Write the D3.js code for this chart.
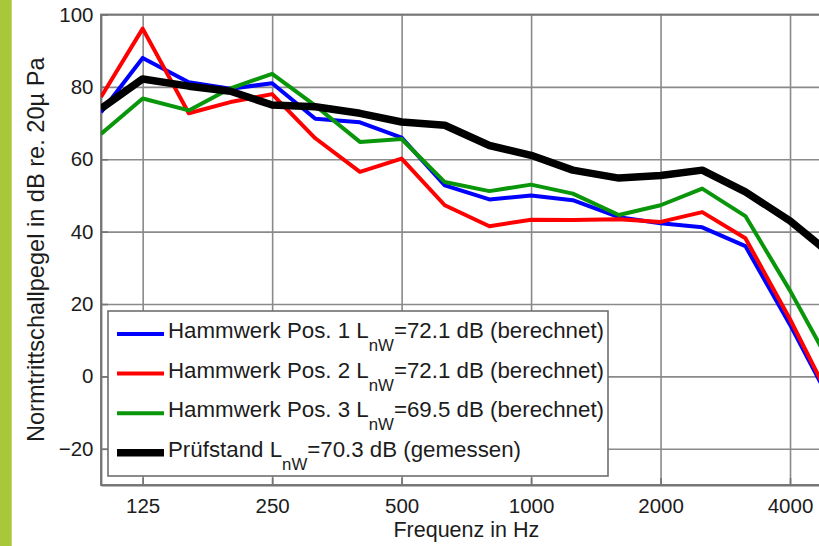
<!DOCTYPE html>
<html>
<head>
<meta charset="utf-8">
<script src="https://cdn.jsdelivr.net/npm/d3@7"></script>
<style>
  html, body { margin: 0; padding: 0; background: #fff; }
  svg { display: block; font-family: "Liberation Sans", Arial, Helvetica, sans-serif; }
</style>
</head>
<body>
<svg id="chart" width="819" height="546"></svg>
<script>
// Third-octave band centre frequencies (Hz)
const freqs = [100, 125, 160, 200, 250, 315, 400, 500, 630, 800, 1000, 1250, 1600, 2000, 2500, 3150, 4000, 5000];

// Normalised impact sound pressure level, dB re. 20 µPa
const pos1 = [73, 88, 81.3, 79.5, 81, 71.2, 70.2, 66, 52.8, 48.9, 50, 48.7, 44, 42.3, 41.2, 36, 14.3, -7.6];
const pos2 = [77.2, 96.1, 72.7, 75.8, 78, 65.8, 56.5, 60.2, 47.3, 41.5, 43.3, 43.2, 43.4, 42.7, 45.4, 38.2, 15.8, -7];
const pos3 = [67, 76.8, 73.5, 79.6, 83.6, 74.8, 64.8, 65.6, 53.7, 51.2, 53, 50.5, 44.6, 47.3, 51.9, 44.3, 23.7, 2.8];
const pruefstand = [74, 82.2, 80.2, 78.8, 75, 74.5, 72.7, 70.3, 69.4, 63.8, 61.1, 57, 54.8, 55.5, 57, 51, 43, 33.5];

const xTicks = [125, 250, 500, 1000, 2000, 4000];
const yTicks = [100, 80, 60, 40, 20, 0, -20];

// Legend entries: [text before subscript, subscript, text after]
const legendLabels = [
  ["Hammwerk Pos. 1 L", "nW", "=72.1 dB (berechnet)"],
  ["Hammwerk Pos. 2 L", "nW", "=72.1 dB (berechnet)"],
  ["Hammwerk Pos. 3 L", "nW", "=69.5 dB (berechnet)"],
  ["Prüfstand L", "nW", "=70.3 dB (gemessen)"]
];

const series = [
  { values: pos1, color: "#0000ff", width: 4 },
  { values: pos2, color: "#ff0000", width: 4 },
  { values: pos3, color: "#0a960a", width: 4 },
  { values: pruefstand, color: "#000000", width: 7.5 }
];

const svg = d3.select("#chart");
const plotL = 101, plotR = 831.7, plotT = 14.5, plotB = 485;
const textColor = "#1c1c1c";

const x = d3.scaleLog().domain([100, 5000]).range([plotL, plotR]);
const y = d3.scaleLinear().domain([-30, 100]).range([plotB, plotT]);

// side accent bar
svg.append("rect").attr("x", 0).attr("y", 0).attr("width", 11.7).attr("height", 546).attr("fill", "#a8c83a");

// grid
const grid = svg.append("g");
grid.append("g")
  .attr("transform", `translate(0,${plotB})`)
  .call(d3.axisBottom(x).tickValues(xTicks).tickSize(-(plotB - plotT)).tickFormat(""))
  .call(g => g.select(".domain").remove())
  .call(g => g.selectAll("line").attr("stroke", "#8a8a8a").attr("stroke-width", 1.6));
grid.append("g")
  .attr("transform", `translate(${plotL},0)`)
  .call(d3.axisLeft(y).tickValues(yTicks).tickSize(-(plotR - plotL)).tickFormat(""))
  .call(g => g.select(".domain").remove())
  .call(g => g.selectAll("line").attr("stroke", "#8a8a8a").attr("stroke-width", 1.6));

// axis box
svg.append("rect")
  .attr("x", plotL).attr("y", plotT).attr("width", plotR - plotL).attr("height", plotB - plotT)
  .attr("fill", "none").attr("stroke", "#747474").attr("stroke-width", 1.8);

// axes with inward ticks
const xAxis = svg.append("g")
  .attr("transform", `translate(0,${plotB})`)
  .call(d3.axisBottom(x).tickValues(xTicks).tickFormat(d3.format("d")).tickSizeInner(-7).tickSizeOuter(0).tickPadding(13.5));
const yAxis = svg.append("g")
  .attr("transform", `translate(${plotL},0)`)
  .call(d3.axisLeft(y).tickValues(yTicks).tickFormat(d => d < 0 ? "\u2212" + Math.abs(d) : d).tickSizeInner(-7).tickSizeOuter(0).tickPadding(7.5));
[xAxis, yAxis].forEach(a => {
  a.select(".domain").attr("stroke", "#747474").attr("stroke-width", 1.8);
  a.selectAll(".tick line").attr("stroke", "#747474").attr("stroke-width", 1.6);
  a.selectAll("text").attr("font-size", 20.5).attr("fill", textColor);
  a.attr("font-family", null).attr("font-size", null);
});

// data lines
svg.append("clipPath").attr("id", "plotClip")
  .append("rect").attr("x", plotL).attr("y", plotT).attr("width", plotR - plotL).attr("height", plotB - plotT);
const line = d3.line().x((d, i) => x(freqs[i])).y(d => y(d));
svg.append("g").attr("clip-path", "url(#plotClip)")
  .selectAll("path").data(series).join("path")
  .attr("d", d => line(d.values))
  .attr("fill", "none")
  .attr("stroke", d => d.color)
  .attr("stroke-width", d => d.width)
  .attr("stroke-linejoin", "round");

// legend
const lg = svg.append("g");
lg.append("rect").attr("x", 108).attr("y", 311).attr("width", 500).attr("height", 165)
  .attr("fill", "#fff").attr("stroke", "#6e6e6e").attr("stroke-width", 1.6);
const rows = lg.selectAll("g.row").data(series).join("g")
  .attr("class", "row")
  .attr("transform", (d, i) => `translate(0,${334 + i * 39.6})`);
rows.append("line").attr("x1", 117).attr("x2", 164).attr("y1", 0).attr("y2", 0)
  .attr("stroke", d => d.color).attr("stroke-width", d => d.width);
const t = rows.append("text").attr("x", 168).attr("y", 4).attr("font-size", 22.3).attr("fill", textColor);
t.append("tspan").text((d, i) => legendLabels[i][0]);
t.append("tspan").attr("font-size", 16.8).attr("dy", 13).text((d, i) => legendLabels[i][1]);
t.append("tspan").attr("dy", -13).text((d, i) => legendLabels[i][2]);

// axis titles
svg.append("text").attr("x", (plotL + plotR) / 2).attr("y", 537).attr("text-anchor", "middle")
  .attr("font-size", 21.5).attr("fill", textColor).text("Frequenz in Hz");
svg.append("text").attr("transform", `translate(44,${(plotT + plotB) / 2}) rotate(-90)`)
  .attr("text-anchor", "middle").attr("font-size", 23.6).attr("fill", textColor)
  .text("Normtrittschallpegel in dB re. 20µ Pa");
</script>
</body>
</html>
